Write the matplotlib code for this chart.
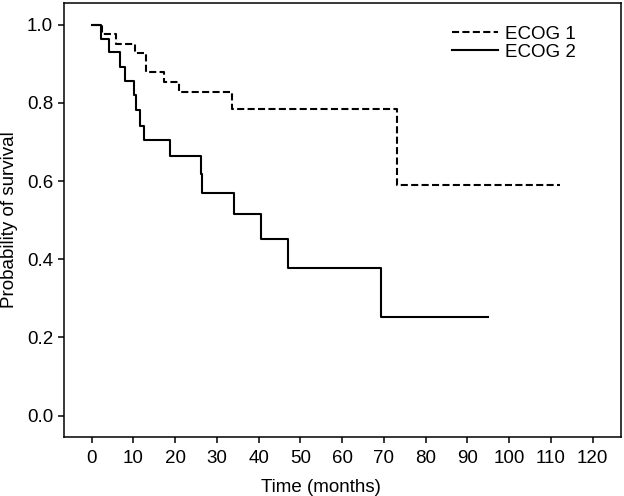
import matplotlib
matplotlib.use("Agg")
import matplotlib.pyplot as plt

# Kaplan-Meier step data
ecog1_time = [0, 2.5, 5.8, 10.3, 12.9, 17.4, 20.9, 33.6, 73.1, 112.1]
ecog1_surv = [1.0, 0.976, 0.951, 0.927, 0.878, 0.854, 0.829, 0.785, 0.589, 0.589]

ecog2_time = [0, 2.3, 4.2, 6.8, 8.0, 10.2, 10.5, 11.6, 12.6, 18.8,
              26.2, 26.5, 34.2, 40.6, 47.1, 69.2, 94.9]
ecog2_surv = [1.0, 0.964, 0.929, 0.893, 0.857, 0.821, 0.781, 0.742, 0.704, 0.663,
              0.619, 0.570, 0.517, 0.453, 0.378, 0.252, 0.252]

x_ticks = list(range(0, 121, 10))
y_ticks = [0.0, 0.2, 0.4, 0.6, 0.8, 1.0]
labels = ["ECOG 1", "ECOG 2"]

plt.rcParams["font.family"] = ["Liberation Sans", "DejaVu Sans"]

fig = plt.figure(figsize=(6.24, 4.96), dpi=100)
ax = fig.add_axes([0.1026, 0.1196, 0.8921, 0.8737])

ax.step(ecog1_time, ecog1_surv, where="post", color="black", lw=1.5,
        dashes=(3.4, 1.6), label=labels[0])
ax.step(ecog2_time, ecog2_surv, where="post", color="black", lw=1.5,
        label=labels[1])

ax.set_xlim(-6.63, 126.7)
ax.set_ylim(-0.0537, 1.0547)
ax.set_xticks(x_ticks)
ax.set_yticks(y_ticks)
ax.set_yticklabels([f"{v:.1f}" for v in y_ticks])

for s in ax.spines.values():
    s.set_linewidth(1.1)
ax.tick_params(axis="x", direction="out", length=4.5, width=1.1, pad=5, labelsize=13.5)
ax.tick_params(axis="y", direction="out", length=4.3, width=1.1, pad=3.6, labelsize=13.5)

ax.set_xlabel("Time (months)", fontsize=13.5)
ax.set_ylabel("Probability of survival", fontsize=13.5)
ax.xaxis.set_label_coords(0.4617, -0.098)
ax.yaxis.set_label_coords(-0.083, 0.5)

ax.legend(loc="upper left", bbox_to_anchor=(0.697, 0.948), frameon=False,
          fontsize=13.5, handlelength=2.45, handletextpad=0.4,
          labelspacing=0.05, borderpad=0, borderaxespad=0)

fig.savefig("out.png", dpi=100)
